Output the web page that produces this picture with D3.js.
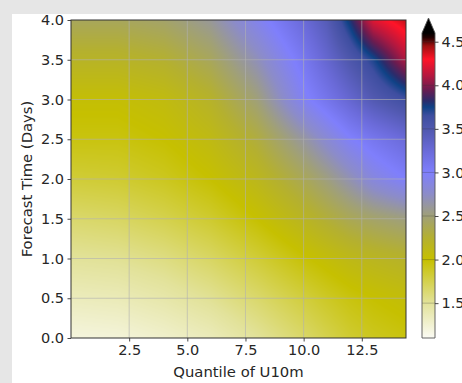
<!DOCTYPE html>
<html>
<head>
<meta charset="utf-8">
<script src="https://cdn.jsdelivr.net/npm/d3@7"></script>
<style>
  html, body { margin: 0; padding: 0; background: #e6e6e6; }
  svg { display: block; }
  text { font-family: "DejaVu Sans", sans-serif; fill: #262626; }
</style>
</head>
<body>
<svg id="chart" width="462" height="383"></svg>
<script>
// Grid nodes of the field: quantile (x) and forecast time in days (y)
const quantileNodes = [0, 2, 4, 6, 8, 10, 11, 12, 13, 14.4];
const dayNodes = [0, 0.5, 1, 1.5, 2, 2.5, 3, 3.5, 4];

// Field values, one row per forecast day node (same order as quantileNodes)
const valuesDay0_0 = [1.20, 1.22, 1.28, 1.36, 1.50, 1.66, 1.75, 1.84, 1.90, 1.95];
const valuesDay0_5 = [1.35, 1.37, 1.43, 1.52, 1.65, 1.80, 1.88, 1.95, 2.00, 2.05];
const valuesDay1_0 = [1.50, 1.52, 1.58, 1.68, 1.82, 1.98, 2.05, 2.12, 2.17, 2.22];
const valuesDay1_5 = [1.65, 1.68, 1.75, 1.85, 2.00, 2.18, 2.28, 2.38, 2.45, 2.52];
const valuesDay2_0 = [1.82, 1.84, 1.90, 2.00, 2.15, 2.38, 2.52, 2.68, 2.85, 3.00];
const valuesDay2_5 = [1.95, 1.95, 2.00, 2.10, 2.30, 2.62, 2.80, 2.98, 3.10, 3.25];
const valuesDay3_0 = [2.03, 2.03, 2.08, 2.22, 2.50, 2.95, 3.12, 3.30, 3.48, 3.64];
const valuesDay3_5 = [2.20, 2.20, 2.25, 2.40, 2.70, 3.08, 3.30, 3.52, 3.72, 4.10];
const valuesDay4_0 = [2.40, 2.40, 2.45, 2.60, 2.92, 3.25, 3.45, 3.80, 4.22, 4.40];
const fieldRows = [valuesDay0_0, valuesDay0_5, valuesDay1_0, valuesDay1_5, valuesDay2_0,
                   valuesDay2_5, valuesDay3_0, valuesDay3_5, valuesDay4_0];

// Axis ticks
const xTicks = [2.5, 5.0, 7.5, 10.0, 12.5];
const yTicks = [0.0, 0.5, 1.0, 1.5, 2.0, 2.5, 3.0, 3.5, 4.0];
const cbarTicks = [1.5, 2.0, 2.5, 3.0, 3.5, 4.0, 4.5];

// Colour map: value stops and their colours
const cmapValues = [1.1, 1.5, 2.0, 2.25, 2.5, 2.75, 3.0, 3.25, 3.5, 3.65, 3.75, 3.82, 3.95, 4.1, 4.3, 4.45, 4.55, 4.6];
const cmapColors = ["#fbfbf4", "#e2e29a", "#c6c000", "#b4b030", "#a0a078", "#8c8cc8", "#7f7ffc",
                    "#6a6ad8", "#5058ae", "#3e4ea0", "#0f4286", "#2a2c6c", "#6a1c50", "#b01840",
                    "#ff1428", "#a01010", "#200000", "#000000"];
const overColor = "#000000";

const svg = d3.select("#chart");
const W = 462, H = 383;

// Figure background (white) inside grey margin
svg.append("rect").attr("x", 12).attr("y", 14).attr("width", W - 12).attr("height", H - 14).attr("fill", "#ffffff");

const plot = { left: 71, right: 406, top: 20, bottom: 338 };
const x = d3.scaleLinear().domain([0, 14.4]).range([plot.left, plot.right]);
const y = d3.scaleLinear().domain([0, 4]).range([plot.bottom, plot.top]);
const color = d3.scaleLinear().domain(cmapValues).range(cmapColors)
  .interpolate(d3.interpolateRgb).clamp(true);

// Bilinear lookup of the field at (q, t)
function fieldAt(q, t) {
  const i = Math.min(Math.max(d3.bisectRight(quantileNodes, q) - 1, 0), quantileNodes.length - 2);
  const j = Math.min(Math.max(d3.bisectRight(dayNodes, t) - 1, 0), dayNodes.length - 2);
  const fx = Math.min(Math.max((q - quantileNodes[i]) / (quantileNodes[i + 1] - quantileNodes[i]), 0), 1);
  const fy = Math.min(Math.max((t - dayNodes[j]) / (dayNodes[j + 1] - dayNodes[j]), 0), 1);
  const a = fieldRows[j][i], b = fieldRows[j][i + 1];
  const c = fieldRows[j + 1][i], d = fieldRows[j + 1][i + 1];
  return (a * (1 - fx) + b * fx) * (1 - fy) + (c * (1 - fx) + d * fx) * fy;
}

// Raster of the field
const pw = plot.right - plot.left, ph = plot.bottom - plot.top;
const canvas = document.createElement("canvas");
canvas.width = pw; canvas.height = ph;
const ctx = canvas.getContext("2d");
const img = ctx.createImageData(pw, ph);
for (let py = 0; py < ph; py++) {
  const t = y.invert(plot.top + py + 0.5);
  for (let px = 0; px < pw; px++) {
    const q = x.invert(plot.left + px + 0.5);
    const c = d3.rgb(color(fieldAt(q, t)));
    const k = (py * pw + px) * 4;
    img.data[k] = c.r; img.data[k + 1] = c.g; img.data[k + 2] = c.b; img.data[k + 3] = 255;
  }
}
ctx.putImageData(img, 0, 0);
svg.append("image")
  .attr("x", plot.left).attr("y", plot.top)
  .attr("width", pw).attr("height", ph)
  .attr("preserveAspectRatio", "none")
  .attr("href", canvas.toDataURL());

// Grid lines
const grid = svg.append("g").attr("stroke", "#b0b0b0").attr("stroke-opacity", 0.6).attr("stroke-width", 1);
grid.selectAll("line.gx").data(xTicks).join("line")
  .attr("x1", d => x(d)).attr("x2", d => x(d))
  .attr("y1", plot.top).attr("y2", plot.bottom);
grid.selectAll("line.gy").data(yTicks.filter(d => d > 0 && d < 4)).join("line")
  .attr("x1", plot.left).attr("x2", plot.right)
  .attr("y1", d => y(d)).attr("y2", d => y(d));

// Axes
const fmt = d3.format(".1f");
const xAxis = svg.append("g").attr("transform", `translate(0,${plot.bottom})`)
  .call(d3.axisBottom(x).tickValues(xTicks).tickFormat(fmt).tickSize(3.5).tickPadding(3.5));
const yAxis = svg.append("g").attr("transform", `translate(${plot.left},0)`)
  .call(d3.axisLeft(y).tickValues(yTicks).tickFormat(fmt).tickSize(3.5).tickPadding(3.5));
[xAxis, yAxis].forEach(g => {
  g.select(".domain").remove();
  g.selectAll(".tick line").attr("stroke", "#333").attr("stroke-width", 0.9);
  g.selectAll(".tick text").attr("font-family", "DejaVu Sans").attr("font-size", 14.5).attr("fill", "#262626");
});

// Frame
svg.append("rect")
  .attr("x", plot.left).attr("y", plot.top).attr("width", pw).attr("height", ph)
  .attr("fill", "none").attr("stroke", "#333").attr("stroke-width", 1);

// Axis labels
svg.append("text")
  .attr("x", (plot.left + plot.right) / 2).attr("y", 377)
  .attr("text-anchor", "middle").attr("font-size", 14.8)
  .text("Quantile of U10m");
svg.append("text")
  .attr("transform", `translate(32,${(plot.top + plot.bottom) / 2}) rotate(-90)`)
  .attr("text-anchor", "middle").attr("font-size", 14.8)
  .text("Forecast Time (Days)");

// Colour bar
const cb = { left: 422, right: 435, top: 33, bottom: 338, tip: 18 };
const cbScale = d3.scaleLinear().domain([1.1, 4.6]).range([cb.bottom, cb.top]);
const defs = svg.append("defs");
const grad = defs.append("linearGradient").attr("id", "cbGrad")
  .attr("x1", 0).attr("y1", 1).attr("x2", 0).attr("y2", 0);
grad.selectAll("stop").data(cmapValues).join("stop")
  .attr("offset", d => (d - 1.1) / 3.5)
  .attr("stop-color", d => color(d));
svg.append("rect")
  .attr("x", cb.left).attr("y", cb.top)
  .attr("width", cb.right - cb.left).attr("height", cb.bottom - cb.top)
  .attr("fill", "url(#cbGrad)");
svg.append("path")
  .attr("d", `M${cb.left},${cb.top}L${(cb.left + cb.right) / 2},${cb.tip}L${cb.right},${cb.top}Z`)
  .attr("fill", overColor);
// faint lines across the bar at each tick
svg.append("g").selectAll("line").data(cbarTicks).join("line")
  .attr("x1", cb.left).attr("x2", cb.right)
  .attr("y1", d => cbScale(d)).attr("y2", d => cbScale(d))
  .attr("stroke", "#333").attr("stroke-opacity", 0.35).attr("stroke-width", 0.8);
svg.append("path")
  .attr("d", `M${cb.left},${cb.bottom}L${cb.left},${cb.top}L${(cb.left + cb.right) / 2},${cb.tip}L${cb.right},${cb.top}L${cb.right},${cb.bottom}Z`)
  .attr("fill", "none").attr("stroke", "#555").attr("stroke-width", 0.9);
const cbAxis = svg.append("g").attr("transform", `translate(${cb.right},0)`)
  .call(d3.axisRight(cbScale).tickValues(cbarTicks).tickFormat(fmt).tickSize(3.5).tickPadding(3));
cbAxis.select(".domain").remove();
cbAxis.selectAll(".tick line").attr("stroke", "#333").attr("stroke-width", 0.9);
cbAxis.selectAll(".tick text").attr("font-family", "DejaVu Sans").attr("font-size", 14.5).attr("fill", "#262626");
</script>
</body>
</html>
